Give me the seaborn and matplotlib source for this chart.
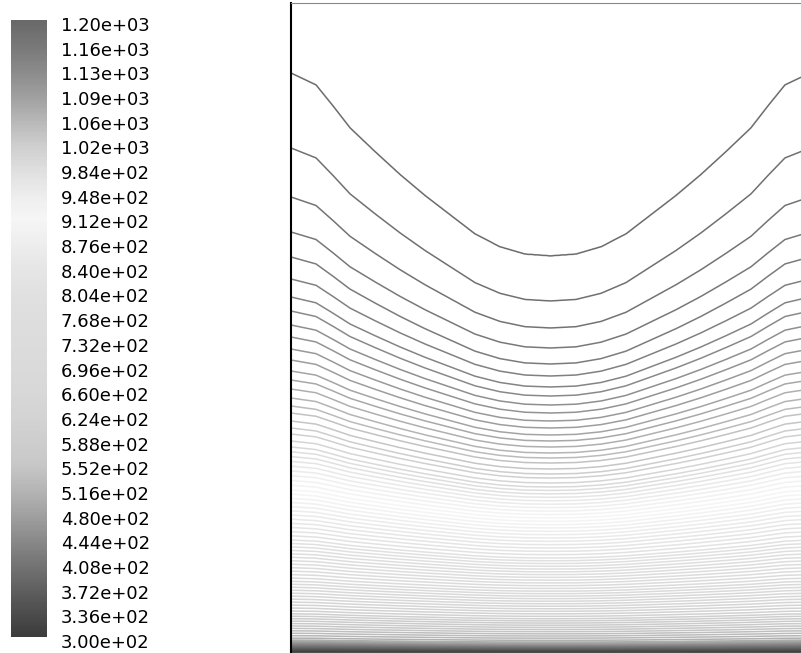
import numpy as np
import seaborn as sns
import matplotlib
matplotlib.use("Agg")
import matplotlib.pyplot as plt
from matplotlib.colors import Normalize
from matplotlib.cm import ScalarMappable
from matplotlib.transforms import ScaledTranslation

# colour legend: values and the grey level
bar_values = [300, 336, 372, 408, 444, 480, 516, 552, 588, 624, 660, 696, 732,
              768, 804, 840, 876, 912, 948, 984, 1020, 1056, 1092, 1128, 1164, 1200]
bar_grey = [60, 78, 98, 118, 140, 162, 182, 200, 206, 212, 216, 218, 220,
            222, 225, 230, 238, 246, 236, 222, 205, 182, 158, 138, 120, 105]

# isotherm depths (image rows) at the side walls and at the centre line
temp_anchor = [1199, 1191, 1182, 1173, 1164, 1155, 1146, 1137, 1128, 1119, 1110,
               1101, 1092, 1083, 1074, 1065, 1056, 1047, 1038, 1029, 1020, 1011,
               1002, 993, 912, 804, 700, 600, 500, 400, 300, 290]
edge_depth = [3, 73, 148, 197, 232, 257, 279, 297, 311, 325, 337, 349, 360, 371,
              380, 389, 398, 406, 413, 421, 428, 434, 441, 447, 490, 540, 580,
              613, 640, 646, 652, 656]
centre_depth = [3, 256, 301, 328, 348, 364, 376, 387, 396, 405, 413, 421, 428,
                435, 441, 447, 453, 458, 463, 469, 474, 478, 483, 487, 518, 558,
                590, 618, 642, 647, 652, 656]

# shape of the dip across the width (0 = wall, 1 = centre)
dip_x = [0, 25, 42, 59, 84, 109, 134, 159, 184, 209, 234, 259.5,
         285, 310, 335, 360, 385, 410, 435, 460, 477, 494, 519]
dip_w = [0, 0.065, 0.18, 0.30, 0.43, 0.555, 0.67, 0.775, 0.88, 0.95, 0.99, 1.0,
         0.99, 0.95, 0.88, 0.775, 0.67, 0.555, 0.43, 0.30, 0.18, 0.065, 0]

contour_levels = np.arange(300, 1201, 9)

sns.set_theme(style="white")
plt.rcParams["font.family"] = ["DejaVu Sans"]

greys = ["#{0:02x}{0:02x}{0:02x}".format(g) for g in bar_grey]
cmap = sns.blend_palette(greys, as_cmap=True)
norm = Normalize(vmin=bar_values[0], vmax=bar_values[-1])

# build the field column by column from the read depths
xg = np.linspace(0, 519, 520)
yg = np.linspace(3, 656, 1300)
edge = np.array(edge_depth, float)
centre = np.array(centre_depth, float)
w = np.interp(xg, dip_x, dip_w)
field = np.empty((len(yg), len(xg)))
for i, wi in enumerate(w):
    field[:, i] = np.interp(yg, edge + wi * (centre - edge), temp_anchor)

fig = plt.figure(figsize=(8.01, 6.53), dpi=100)
ax = fig.add_axes([291 / 801, -3 / 653, 519 / 801, 653 / 653])
ax.contour(xg, yg, field, levels=contour_levels, cmap=cmap, norm=norm,
           linewidths=1.1)
ax.set_xlim(0, 519)
ax.set_ylim(656, 3)
ax.set_xticks([])
ax.set_yticks([])
for side in ["right", "bottom"]:
    ax.spines[side].set_visible(False)
ax.spines["left"].set_color("black")
ax.spines["left"].set_linewidth(1.5)
ax.spines["top"].set_color("#888888")
ax.spines["top"].set_linewidth(0.8)

cax = fig.add_axes([11 / 801, 16 / 653, 36 / 801, 617 / 653])
cb = fig.colorbar(ScalarMappable(norm=norm, cmap=cmap), cax=cax, ticks=bar_values)
cb.outline.set_visible(False)
cb.ax.set_yticklabels([f"{v:.2e}" for v in bar_values])
cb.ax.tick_params(length=0, pad=10, labelsize=13, colors="black")
shift = ScaledTranslation(0, -4 / 100, fig.dpi_scale_trans)
for lab in cb.ax.get_yticklabels():
    lab.set_transform(lab.get_transform() + shift)

fig.savefig("out.png", dpi=100)
